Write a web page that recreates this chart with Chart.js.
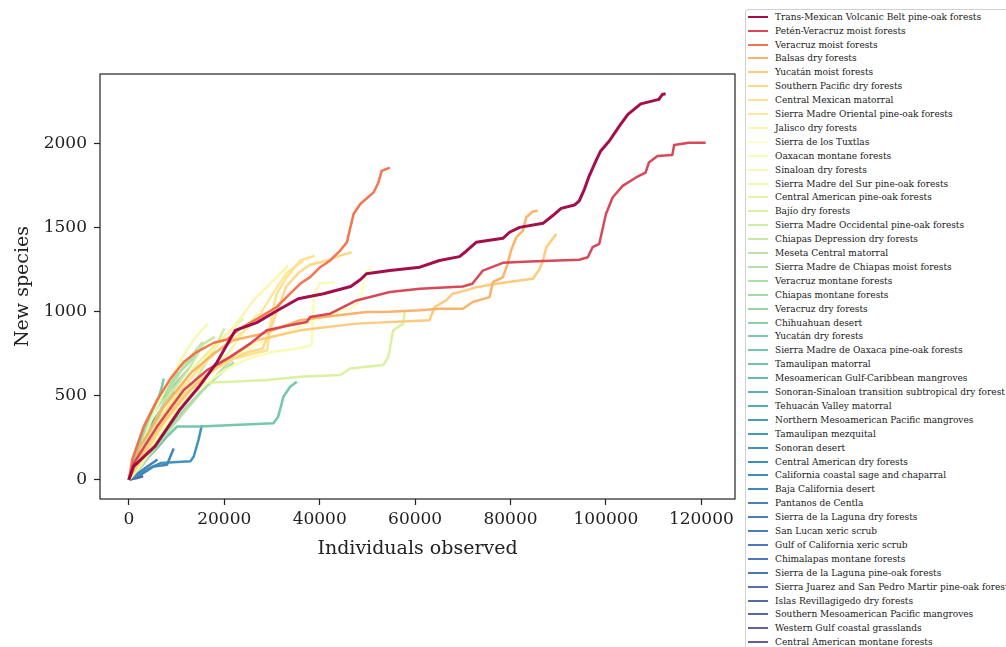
<!DOCTYPE html>
<html>
<head>
<meta charset="utf-8">
<script src="https://cdn.jsdelivr.net/npm/chart.js@4.4.0/dist/chart.umd.min.js"></script>
<style>
  body { margin: 0; width: 1006px; height: 647px; overflow: hidden; background: #fff; position: relative; font-family: 'DejaVu Serif', serif; }
  #plot { position: absolute; left: 0; top: 0; }
  #legend { position: absolute; left: 745px; top: 9px; width: 300px; height: 700px; border: 1px solid #d0d0d0; border-radius: 3px; background: #fff; }
  .row { position: absolute; left: 0; height: 14px; display: flex; align-items: center; font-size: 9px; color: #1a1a1a; white-space: nowrap; }
  .swatch { width: 20px; height: 2px; margin-left: 2px; margin-right: 7px; }
</style>
</head>
<body>
<canvas id="plot" width="745" height="647"></canvas>
<div id="legend"></div>
<script>
// ecoregions, sorted by species found
const regionNames = [
  'Trans-Mexican Volcanic Belt pine-oak forests', 'Petén-Veracruz moist forests', 'Veracruz moist forests',
  'Balsas dry forests', 'Yucatán moist forests', 'Southern Pacific dry forests', 'Central Mexican matorral',
  'Sierra Madre Oriental pine-oak forests', 'Jalisco dry forests', 'Sierra de los Tuxtlas', 'Oaxacan montane forests',
  'Sinaloan dry forests', 'Sierra Madre del Sur pine-oak forests', 'Central American pine-oak forests', 'Bajío dry forests',
  'Sierra Madre Occidental pine-oak forests', 'Chiapas Depression dry forests', 'Meseta Central matorral',
  'Sierra Madre de Chiapas moist forests', 'Veracruz montane forests', 'Chiapas montane forests', 'Veracruz dry forests',
  'Chihuahuan desert', 'Yucatán dry forests', 'Sierra Madre de Oaxaca pine-oak forests', 'Tamaulipan matorral',
  'Mesoamerican Gulf-Caribbean mangroves', 'Sonoran-Sinaloan transition subtropical dry forest', 'Tehuacán Valley matorral',
  'Northern Mesoamerican Pacific mangroves', 'Tamaulipan mezquital', 'Sonoran desert', 'Central American dry forests',
  'California coastal sage and chaparral', 'Baja California desert', 'Pantanos de Centla', 'Sierra de la Laguna dry forests',
  'San Lucan xeric scrub', 'Gulf of California xeric scrub', 'Chimalapas montane forests', 'Sierra de la Laguna pine-oak forests',
  'Sierra Juarez and San Pedro Martir pine-oak forests', 'Islas Revillagigedo dry forests',
  'Southern Mesoamerican Pacific mangroves', 'Western Gulf coastal grasslands', 'Central American montane forests'
];

// individuals observed, one list per region
const curveX = [
  [0,1000,5500,10500,14600,18500,20500,22300,26800,31300,35500,40800,46500,48500,49800,54700,61000,65100,69300,70700,72800,78400,79800,81900,86800,88800,90600,93400,94400,95500,96500,97900,98900,100700,102800,104600,107300,111100,111800,112500],
  [0,1050,5900,11500,16400,21300,25400,28900,33800,37300,38000,42200,47700,54700,61000,70000,72000,74200,78400,84000,94400,96200,97200,98600,100000,101400,103500,106300,108300,109000,110800,113900,114300,117400,120900],
  [0,700,3100,5900,8700,11500,14300,17800,20600,23300,27500,31000,33800,35900,38000,40100,42200,44300,45700,47100,48500,51300,52300,53000,54700],
  [0,2400,7300,12900,17800,21900,28200,35900,40800,49800,54700,61000,65100,70000,72100,75600,76300,78400,79400,80100,81200,82600,83300,84700,85700],
  [0,2000,5900,12900,19900,26800,35900,47700,63000,64100,66500,67900,70700,72800,77000,81900,84700,86100,86800,87500,89600],
  [0,2500,6000,10000,15000,20000,25000,28000,29500,31000,33000,35500,38000,41000,44300,46700],
  [0,3000,7000,12000,17000,22000,26000,29000,29600,30300,31000,33100,35900,37500,39000],
  [0,2000,6000,11000,16000,20000,24000,27000,30000,33000,36500],
  [0,3000,8000,13000,17000,22000,26100,30300,33400],
  [0,4000,9000,15000,20000,25000,30000,35000,40000,46400,48400,48800,49500,50900],
  [0,4000,9000,15000,20000,25000,30000,35000,38300,38800,40000,43200],
  [0,2000,5000,8000,11000,13500,16500],
  [0,3000,7000,12000,17000,21000,24000,27000],
  [0,2500,6000,10000,14000,18000,21000,24000],
  [0,2500,6600,11500,15000,21300,28900,35900,44300,46400,53300,54400,55400,57500,57800],
  [0,3000,7000,11000,15000,18000,20000],
  [0,2000,5000,9000,13000,15700,18000],
  [0,2500,6000,9000,12000,15500],
  [0,3000,8000,13000,17000,21000,25000],
  [0,1500,4000,7000,10000,14000],
  [0,3000,7000,11000,15000,18000,22000],
  [0,1500,4000,7000,10000,12500],
  [0,2000,4500,7000,10500],
  [0,1750,3800,5200,6300,7000,7300],
  [0,3000,6000,8000,10100,15000,21900,30300,31300,32400,33800,35200],
  [0,2000,5000,8500,12000],
  [0,1500,4000,7000,9500],
  [0,2500,5500,8500,11000],
  [0,2000,4500,8500],
  [0,1500,3500,6500],
  [0,2500,5500,10000],
  [0,2000,4500,6600,12900,13600,14600,15300],
  [0,1500,3000,5000],
  [0,2000,4500,7000],
  [0,1500,3000,4500],
  [0,2000,5200,8000,8700,9400],
  [0,1500,3500],
  [0,2500,6000],
  [0,1500,3000],
  [0,1200,2500],
  [0,1000,2000],
  [0,900,1800],
  [0,800,1500],
  [0,1500,3000],
  [0,400,800],
  [0,250,500]
];

// new species found, matching curveX
const curveY = [
  [0,79,200,410,550,700,800,889,935,1010,1077,1107,1150,1190,1226,1245,1265,1305,1328,1360,1413,1437,1473,1502,1526,1571,1615,1635,1660,1730,1809,1898,1957,2016,2105,2175,2237,2264,2293,2297],
  [0,99,316,534,652,731,810,889,919,939,968,988,1067,1117,1137,1150,1166,1245,1291,1299,1309,1324,1384,1404,1582,1680,1749,1799,1828,1888,1927,1933,1992,2006,2006],
  [0,119,316,474,600,700,761,815,835,900,968,1028,1107,1166,1206,1265,1305,1364,1413,1582,1641,1710,1769,1838,1858],
  [0,198,435,633,751,830,870,949,968,998,1000,1008,1018,1018,1058,1087,1176,1206,1285,1364,1443,1483,1562,1597,1601],
  [0,120,296,534,711,830,889,929,949,1028,1067,1107,1127,1146,1166,1186,1196,1255,1305,1384,1463],
  [0,120,280,450,600,700,760,780,880,1000,1150,1230,1280,1300,1334,1354],
  [0,130,330,520,640,720,750,770,909,1028,1107,1206,1305,1320,1334],
  [0,110,330,540,700,800,880,960,1100,1230,1300],
  [0,150,400,600,750,909,1067,1186,1275],
  [0,180,400,580,700,780,850,900,960,1020,1057,1100,1226,1265],
  [0,150,380,550,650,720,760,780,800,1100,1170,1176],
  [0,150,380,560,720,830,930],
  [0,120,300,480,640,760,880,990],
  [0,140,340,520,680,800,880,960],
  [0,80,316,515,575,583,593,613,623,662,682,731,889,929,998],
  [0,100,300,480,640,780,900],
  [0,120,320,520,680,810,850],
  [0,140,380,560,700,820],
  [0,100,280,450,580,700,790],
  [0,120,330,500,620,740],
  [0,90,250,400,520,600,700],
  [0,140,340,480,580,660],
  [0,160,360,500,640],
  [0,198,336,415,494,560,603],
  [0,100,190,257,316,316,326,336,375,494,553,583],
  [0,110,280,430,560],
  [0,120,300,430,520],
  [0,90,250,380,480],
  [0,130,290,440],
  [0,140,280,400],
  [0,90,220,360],
  [0,30,70,99,109,138,237,326],
  [0,100,190,290],
  [0,70,160,250],
  [0,80,140,200],
  [0,20,79,89,138,185],
  [0,70,150],
  [0,50,120],
  [0,50,100],
  [0,40,80],
  [0,30,60],
  [0,25,45],
  [0,15,30],
  [0,8,20],
  [0,5,10],
  [0,2,5]
];

const xTicks = [0, 20000, 40000, 60000, 80000, 100000, 120000];
const yTicks = [0, 500, 1000, 1500, 2000];

// position of each region on the Spectral colour map
const colorPos = [0, 0.1, 0.2, 0.3, 0.35, 0.38, 0.4, 0.42, 0.46, 0.5, 0.53, 0.55, 0.57, 0.6, 0.62, 0.64, 0.66, 0.68, 0.69, 0.7,
  0.72, 0.74, 0.76, 0.78, 0.79, 0.8, 0.82, 0.84, 0.85, 0.87, 0.88, 0.89, 0.9, 0.9, 0.91, 0.92, 0.93, 0.93, 0.94, 0.94,
  0.95, 0.96, 0.97, 0.98, 0.99, 1.0];

const spectralStops = ['#9e0142', '#d53e4f', '#f46d43', '#fdae61', '#fee08b', '#ffffbf', '#e6f598', '#abdda4', '#66c2a5', '#3288bd', '#5e4fa2'];

function hexRgb(h) {
  return [parseInt(h.slice(1, 3), 16), parseInt(h.slice(3, 5), 16), parseInt(h.slice(5, 7), 16)];
}

function spectral(t, alpha) {
  const pos = t * (spectralStops.length - 1);
  const i = Math.min(Math.floor(pos), spectralStops.length - 2);
  const f = pos - i;
  const a = hexRgb(spectralStops[i]), b = hexRgb(spectralStops[i + 1]);
  const c = a.map((v, k) => Math.round(v + (b[k] - v) * f));
  return `rgba(${c[0]},${c[1]},${c[2]},${alpha})`;
}

const lineColors = colorPos.map(t => spectral(t, 0.95));

const frame = {
  id: 'frame',
  afterDatasetsDraw(chart) {
    const { ctx, chartArea: a } = chart;
    ctx.save();
    ctx.strokeStyle = '#222';
    ctx.lineWidth = 1.2;
    ctx.strokeRect(a.left, a.top, a.right - a.left, a.bottom - a.top);
    ctx.restore();
  }
};

const serif = 'DejaVu Serif';

new Chart(document.getElementById('plot'), {
  type: 'line',
  data: {
    datasets: regionNames.map((name, i) => ({
      label: name,
      data: curveX[i].map((x, j) => ({ x: x, y: curveY[i][j] })),
      borderColor: lineColors[i],
      backgroundColor: lineColors[i],
      borderWidth: i === 0 ? 3 : 2.5,
      borderJoinStyle: 'round',
      pointRadius: 0,
      tension: 0,
      fill: false
    }))
  },
  options: {
    responsive: false,
    animation: false,
    devicePixelRatio: 1,
    layout: { padding: { top: 74, right: 10, left: 0, bottom: 0 } },
    plugins: { legend: { display: false }, tooltip: { enabled: false } },
    scales: {
      x: {
        type: 'linear',
        min: -6050,
        max: 127050,
        afterBuildTicks: ax => { ax.ticks = xTicks.map(v => ({ value: v })); },
        afterFit: ax => { ax.height = 148; },
        ticks: { color: '#222', font: { family: serif, size: 17 }, maxRotation: 0, padding: 4, callback: v => String(v) },
        grid: { display: true, drawOnChartArea: false, drawTicks: true, tickLength: 6, color: '#222', tickWidth: 1.2 },
        border: { display: false },
        title: { display: true, text: 'Individuals observed', color: '#222', font: { family: serif, size: 19 }, padding: { top: 0, bottom: 87 } }
      },
      y: {
        type: 'linear',
        min: -115,
        max: 2415,
        afterBuildTicks: ax => { ax.ticks = yTicks.map(v => ({ value: v })); },
        afterFit: ax => { ax.width = 100; },
        ticks: { color: '#222', font: { family: serif, size: 17 }, padding: 7, callback: v => String(v) },
        grid: { display: true, drawOnChartArea: false, drawTicks: true, tickLength: 6, color: '#222', tickWidth: 1.2 },
        border: { display: false },
        title: { display: true, text: 'New species', color: '#222', font: { family: serif, size: 19 }, padding: { top: 12, bottom: 0 } }
      }
    }
  },
  plugins: [frame]
});

// legend box on the right
const legend = document.getElementById('legend');
regionNames.forEach((name, i) => {
  const row = document.createElement('div');
  row.className = 'row';
  row.style.top = Math.round(6.7 + i * 13.9 - 7) + 'px';
  const sw = document.createElement('span');
  sw.className = 'swatch';
  sw.style.background = lineColors[i];
  const label = document.createElement('span');
  label.textContent = name;
  row.appendChild(sw);
  row.appendChild(label);
  legend.appendChild(row);
});
</script>
</body>
</html>
